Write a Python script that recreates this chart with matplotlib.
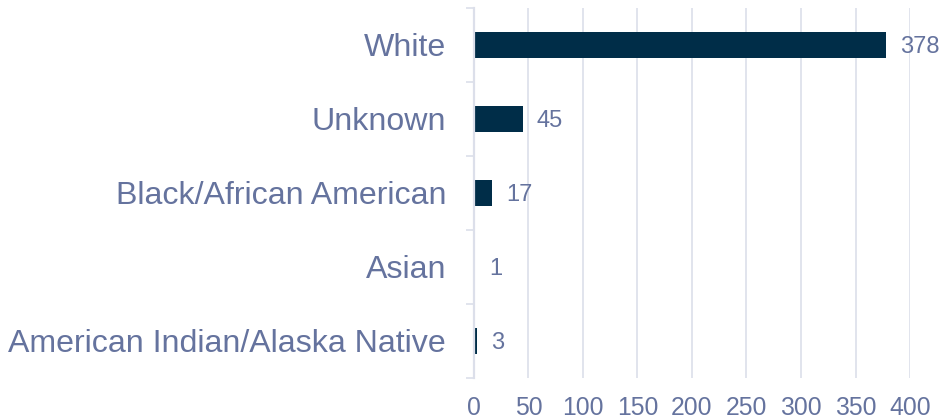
import matplotlib.pyplot as plt
import numpy as np

categories = ['White', 'Unknown', 'Black/African American', 'Asian',
              'American Indian/Alaska Native']
counts = [378, 45, 17, 1, 3]
x_ticks = [0, 50, 100, 150, 200, 250, 300, 350, 400]

label_color = '#65739e'
bar_color = '#002d48'
grid_color = '#dcdfea'

plt.rcParams['font.family'] = ['Liberation Sans', 'DejaVu Sans']

fig = plt.figure(figsize=(9.44, 4.19), dpi=100)
ax = fig.add_axes([0.502, 0.098, 0.462, 0.883])

y = np.arange(len(categories))
ax.barh(y, counts, height=0.35, color=bar_color, zorder=3)
ax.set_ylim(len(categories) - 0.5, -0.5)
ax.set_xlim(0, 400)

for yi, c in zip(y, counts):
    ax.annotate(str(c), (c, yi), xytext=(10, 0), textcoords='offset points',
                va='center_baseline', ha='left', fontsize=17, color=label_color,
                annotation_clip=False)

ax.set_yticks(y)
ax.set_yticklabels(categories, fontsize=23.1, color=label_color)
ax.set_yticks(np.arange(len(categories) + 1) - 0.5, minor=True)
ax.tick_params(axis='y', which='major', length=0, pad=20)
ax.tick_params(axis='y', which='minor', length=6, color=grid_color, width=1.2)

ax.set_xticks(x_ticks)
ax.tick_params(axis='x', length=0, labelsize=17.8, labelcolor=label_color, pad=13)
ax.grid(axis='x', color=grid_color, linewidth=1.2, zorder=0)

for s in ['top', 'right', 'bottom']:
    ax.spines[s].set_visible(False)
ax.spines['left'].set_color(grid_color)
ax.spines['left'].set_linewidth(1.6)
ax.spines['left'].set_zorder(4)

fig.savefig('out.png', dpi=100)
